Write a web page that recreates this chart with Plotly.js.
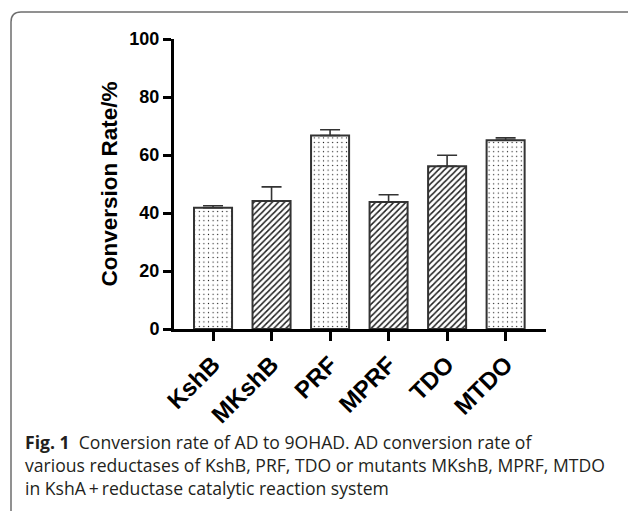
<!DOCTYPE html>
<html>
<head>
<meta charset="utf-8">
<script src="https://cdn.plot.ly/plotly-3.0.1.min.js"></script>
<style>
html,body{margin:0;padding:0;background:#fff;}
#chart{width:628px;height:511px;}
</style>
</head>
<body>
<div id="chart"></div>
<script>
const categories = ["KshB", "MKshB", "PRF", "MPRF", "TDO", "MTDO"];
const conversionRate = [41.8, 44.1, 66.7, 43.8, 56.1, 65.1];
const errorUp = [0.7, 4.9, 2.0, 2.5, 3.8, 0.8];
const patternShapes = [".", "/", ".", "/", "/", "."];
const yTickValues = [0, 20, 40, 60, 80, 100];
const captionLines = [
  "<b>Fig. 1</b>  Conversion rate of AD to 9OHAD. AD conversion rate of",
  "various reductases of KshB, PRF, TDO or mutants MKshB, MPRF, MTDO",
  "in KshA\u2009+\u2009reductase catalytic reaction system"
];

// plot-area geometry helpers (pixels -> paper coords)
const L = 174, R = 546, T = 39, B = 329, W = 628, H = 511;
const px = x => (x - L) / (R - L);
const py = y => (B - y) / (B - T);

const trace = {
  type: "bar",
  x: categories,
  y: conversionRate,
  width: 0.65,
  marker: {
    color: "white",
    line: {color: "#333333", width: 2},
    pattern: {
      shape: patternShapes,
      fgcolor: "#1e1e1e",
      bgcolor: "white",
      size: patternShapes.map(s => s === "." ? 4.6 : 4.3),
      solidity: patternShapes.map(s => s === "." ? 0.06 : 0.34),
      fillmode: "replace"
    }
  },
  error_y: {
    type: "data",
    symmetric: false,
    array: errorUp,
    arrayminus: errorUp.map(() => 0),
    color: "#333333",
    thickness: 1.6,
    width: 10
  },
  hoverinfo: "skip"
};

const r = 10;
const x0 = px(11), yTop = py(12), x1 = px(660), yBot = py(540);
const rx = r / (R - L), ry = r / (B - T);
const borderPath = `M ${x0},${yBot} L ${x0},${yTop - ry} Q ${x0},${yTop} ${x0 + rx},${yTop} L ${x1},${yTop}`;

const annotations = [{
  xref: "paper", yref: "paper",
  x: px(23), y: py(465),
  xanchor: "left", yanchor: "middle",
  text: captionLines.join("<br>"), showarrow: false, align: "left",
  font: {family: "Open Sans, Noto Sans, sans-serif", size: 17.6, color: "#231f20"}
}];

const layout = {
  width: W, height: H,
  margin: {l: L, r: W - R, t: T, b: H - B, pad: 0},
  paper_bgcolor: "white",
  plot_bgcolor: "white",
  showlegend: false,
  font: {family: "Liberation Sans, Arial, sans-serif", color: "#000"},
  xaxis: {
    type: "category",
    range: [-0.667, 5.69],
    showline: true, linecolor: "#000", linewidth: 3,
    ticks: "outside", ticklen: 9, tickwidth: 3, tickcolor: "#000",
    tickangle: -45,
    tickfont: {family: "Liberation Sans, Arial, sans-serif", size: 24, color: "#000", weight: "bold"},
    showgrid: false, zeroline: false, fixedrange: true,
    automargin: false
  },
  yaxis: {
    range: [0, 100],
    tickvals: yTickValues,
    ticktext: yTickValues.map(String),
    showline: true, linecolor: "#000", linewidth: 3,
    ticks: "outside", ticklen: 8, tickwidth: 3, tickcolor: "#000",
    tickfont: {family: "Liberation Sans, Arial, sans-serif", size: 18, color: "#000", weight: "bold"},
    title: {text: "<b>Conversion Rate/%</b>", font: {family: "Liberation Sans, Arial, sans-serif", size: 22.5, color: "#000"}, standoff: 6},
    showgrid: false, zeroline: false, fixedrange: true,
    automargin: false
  },
  shapes: [{
    type: "path", xref: "paper", yref: "paper",
    path: borderPath,
    line: {color: "#6e6e6e", width: 1.5},
    layer: "above"
  }],
  annotations: annotations
};

Plotly.newPlot("chart", [trace], layout, {staticPlot: true, displayModeBar: false});
</script>
</body>
</html>
